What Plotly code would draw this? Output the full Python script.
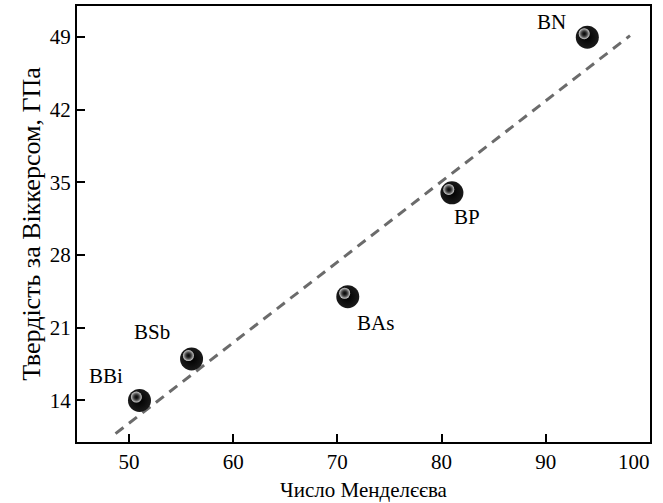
import numpy as np
import plotly.graph_objects as go

# Data
compounds = ["BBi", "BSb", "BAs", "BP", "BN"]
mendeleev = [51, 56, 71, 81, 94]
hardness = [14, 18, 24, 34, 49]
fit_x_range = [48.7, 98.1]
x_ticks = [50, 60, 70, 80, 90, 100]
y_ticks = [14, 21, 28, 35, 42, 49]

# label offsets (px) relative to each point
label_shift = {
    "BBi": (-33, 24),
    "BSb": (-40, 27),
    "BAs": (28, -26),
    "BP": (15, -24),
    "BN": (-36, 15),
}

slope, intercept = np.polyfit(mendeleev, hardness, 1)
fx = np.array(fit_x_range)
fy = slope * fx + intercept

FONT = "Liberation Serif, Times New Roman, serif"

fig = go.Figure()
fig.add_trace(go.Scatter(
    x=fx, y=fy, mode="lines",
    line=dict(color="#6b6b6b", width=3, dash="10px,7px"),
    hoverinfo="skip", showlegend=False,
))
fig.add_trace(go.Scatter(
    x=mendeleev, y=hardness, mode="markers",
    marker=dict(size=23, color="#1a1a1a",
                gradient=dict(type="radial", color="#000000"),
                line=dict(width=0)),
    showlegend=False,
))
# specular highlight (small offset up-left, style only)
hx = [v - 0.3 for v in mendeleev]
hy = [v + 0.33 for v in hardness]
fig.add_trace(go.Scatter(
    x=hx, y=hy, mode="markers",
    marker=dict(size=11, color="#d8d8d8",
                gradient=dict(type="radial", color="rgba(30,30,30,0.0)"),
                line=dict(width=0)),
    hoverinfo="skip", showlegend=False,
))

for name, xv, yv in zip(compounds, mendeleev, hardness):
    sx, sy = label_shift[name]
    fig.add_annotation(
        x=xv, y=yv, text=name, showarrow=False,
        xshift=sx, yshift=sy,
        font=dict(family=FONT, size=21, color="black"),
    )

# the last x tick label sits slightly left of its tick so it stays in the page
last_tick = x_ticks[-1]
tick_text = [str(t) for t in x_ticks[:-1]] + [""]
fig.add_annotation(
    x=last_tick, y=0, xref="x", yref="paper", text=str(last_tick),
    showarrow=False, xanchor="right", yanchor="top", xshift=2, yshift=-6,
    font=dict(family=FONT, size=21, color="black"),
)

fig.update_layout(
    width=663, height=503,
    margin=dict(l=77, r=13, t=6, b=61),
    paper_bgcolor="white", plot_bgcolor="white",
    font=dict(family=FONT, size=21, color="black"),
)
fig.update_xaxes(
    range=[45, 100.02], tickvals=x_ticks, ticktext=tick_text,
    ticks="inside", ticklen=8, tickwidth=1.5, tickcolor="black",
    showline=True, linecolor="black", linewidth=2, mirror=True,
    showgrid=False, zeroline=False, automargin=False,
    title=dict(text="Число Менделєєва", font=dict(family=FONT, size=21), standoff=9),
    tickfont=dict(family=FONT, size=21),
)
fig.update_yaxes(
    range=[10, 52], tickvals=y_ticks, ticktext=[str(t) for t in y_ticks],
    ticks="inside", ticklen=8, tickwidth=1.5, tickcolor="black",
    showline=True, linecolor="black", linewidth=2, mirror=True,
    showgrid=False, zeroline=False, automargin=False,
    title=dict(text="Твердість за Віккерсом, ГПа", font=dict(family=FONT, size=26), standoff=2),
    tickfont=dict(family=FONT, size=21),
)

fig.write_html("out.html")
